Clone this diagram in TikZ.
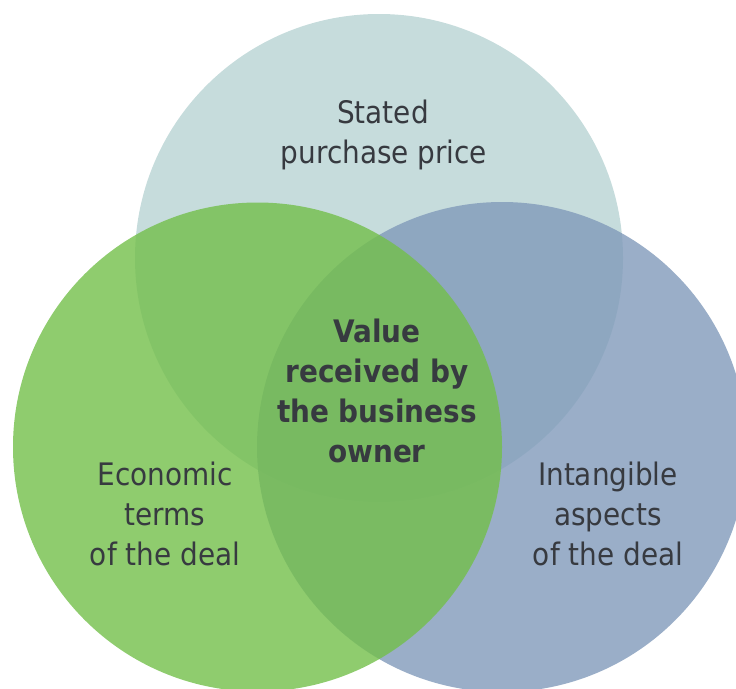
\documentclass[tikz,border=0pt]{standalone}
\usepackage{fontspec}
\setmainfont{DejaVu Sans Condensed}
\definecolor{topc}{RGB}{198,220,220}
\definecolor{bluec}{RGB}{129,154,186}
\definecolor{greenc}{RGB}{115,191,74}
\definecolor{txt}{RGB}{55,58,64}
\tikzset{
  lbl/.style={text=txt, font=\fontsize{31}{40}\selectfont, align=center, anchor=base, inner sep=0pt},
  lblb/.style={lbl, font=\fontsize{31}{40}\selectfont\bfseries}
}
\begin{document}
\begin{tikzpicture}[x=1pt,y=-1pt]
\useasboundingbox (0,0) rectangle (736,688);
\fill[topc] (379,258) circle[radius=244];
\fill[bluec, fill opacity=0.8] (502,447) circle[radius=245];
\fill[greenc, fill opacity=0.8] (257.5,447) circle[radius=244.5];
\node[lbl] (stated) at (383,123) {Stated};
\node[lbl] (price) at (384,163) {purchase price};
\node[lbl] (eco1) at (165,485) {Economic};
\node[lbl] (eco2) at (165,525) {terms};
\node[lbl] (eco3) at (165,565) {of the deal};
\node[lbl] (int1) at (608,485) {Intangible};
\node[lbl] (int2) at (608,525) {aspects};
\node[lbl] (int3) at (608,565) {of the deal};
\node[lblb] (v1) at (377,342) {Value};
\node[lblb] (v2) at (377,382) {received by};
\node[lblb] (v3) at (377,422) {the business};
\node[lblb] (v4) at (377,462) {owner};
\end{tikzpicture}
\end{document}
